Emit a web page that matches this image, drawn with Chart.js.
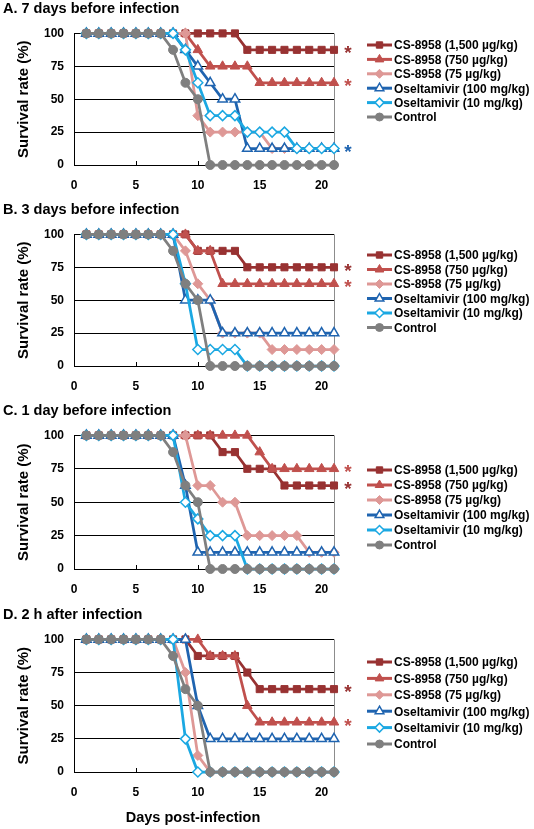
<!DOCTYPE html>
<html>
<head>
<meta charset="utf-8">
<script src="https://cdn.jsdelivr.net/npm/chart.js@4/dist/chart.umd.min.js"></script>
<style>
  body { margin: 0; background: #fff; }
  #wrap { position: relative; width: 534px; height: 829px; }
  canvas { position: absolute; left: 0; }
</style>
</head>
<body>
<div id="wrap">
  <canvas id="chartA" width="534" height="200" style="top:0px"></canvas>
  <canvas id="chartB" width="534" height="200" style="top:201px"></canvas>
  <canvas id="chartC" width="534" height="202" style="top:402px"></canvas>
  <canvas id="chartD" width="534" height="223" style="top:606px"></canvas>
</div>
<script>
// days post-infection
var days = [1, 2, 3, 4, 5, 6, 7, 8, 9, 10, 11, 12, 13, 14, 15, 16, 17, 18, 19, 20, 21];

var seriesNames = ['CS-8958 (1,500 µg/kg)', 'CS-8958 (750 µg/kg)', 'CS-8958 (75 µg/kg)',
                   'Oseltamivir (100 mg/kg)', 'Oseltamivir (10 mg/kg)', 'Control'];

// A. 7 days before infection
var csHighA  = [100,100,100,100,100,100,100,100,100,100,100,100,100,87.5,87.5,87.5,87.5,87.5,87.5,87.5,87.5];
var csMidA   = [100,100,100,100,100,100,100,100,100,87.5,75,75,75,75,62.5,62.5,62.5,62.5,62.5,62.5,62.5];
var csLowA   = [100,100,100,100,100,100,100,100,100,37.5,25,25,25,25,25,12.5,12.5,12.5,12.5,12.5,12.5];
var oselHighA = [100,100,100,100,100,100,100,100,87.5,75,62.5,50,50,12.5,12.5,12.5,12.5,12.5,12.5,12.5,12.5];
var oselLowA = [100,100,100,100,100,100,100,100,87.5,62.5,37.5,37.5,37.5,25,25,25,25,12.5,12.5,12.5,12.5];
var controlA = [100,100,100,100,100,100,100,87.5,62.5,50,0,0,0,0,0,0,0,0,0,0,0];

// B. 3 days before infection
var csHighB  = [100,100,100,100,100,100,100,100,100,87.5,87.5,87.5,87.5,75,75,75,75,75,75,75,75];
var csMidB   = [100,100,100,100,100,100,100,100,100,87.5,87.5,62.5,62.5,62.5,62.5,62.5,62.5,62.5,62.5,62.5,62.5];
var csLowB   = [100,100,100,100,100,100,100,100,87.5,62.5,50,25,25,25,25,12.5,12.5,12.5,12.5,12.5,12.5];
var oselHighB = [100,100,100,100,100,100,100,100,50,50,50,25,25,25,25,25,25,25,25,25,25];
var oselLowB = [100,100,100,100,100,100,100,100,62.5,12.5,12.5,12.5,12.5,0,0,0,0,0,0,0,0];
var controlB = [100,100,100,100,100,100,100,87.5,62.5,50,0,0,0,0,0,0,0,0,0,0,0];

// C. 1 day before infection
var csHighC  = [100,100,100,100,100,100,100,100,100,100,100,87.5,87.5,75,75,75,62.5,62.5,62.5,62.5,62.5];
var csMidC   = [100,100,100,100,100,100,100,100,100,100,100,100,100,100,87.5,75,75,75,75,75,75];
var csLowC   = [100,100,100,100,100,100,100,100,100,62.5,62.5,50,50,25,25,25,25,25,12.5,12.5,12.5];
var oselHighC = [100,100,100,100,100,100,100,100,62.5,12.5,12.5,12.5,12.5,12.5,12.5,12.5,12.5,12.5,12.5,12.5,12.5];
var oselLowC = [100,100,100,100,100,100,100,100,50,37.5,25,25,25,0,0,0,0,0,0,0,0];
var controlC = [100,100,100,100,100,100,100,87.5,62.5,50,0,0,0,0,0,0,0,0,0,0,0];

// D. 2 h after infection
var csHighD  = [100,100,100,100,100,100,100,100,100,87.5,87.5,87.5,87.5,75,62.5,62.5,62.5,62.5,62.5,62.5,62.5];
var csMidD   = [100,100,100,100,100,100,100,100,100,100,87.5,87.5,87.5,50,37.5,37.5,37.5,37.5,37.5,37.5,37.5];
var csLowD   = [100,100,100,100,100,100,100,100,75,12.5,0,0,0,0,0,0,0,0,0,0,0];
var oselHighD = [100,100,100,100,100,100,100,100,100,50,25,25,25,25,25,25,25,25,25,25,25];
var oselLowD = [100,100,100,100,100,100,100,100,25,0,0,0,0,0,0,0,0,0,0,0,0];
var controlD = [100,100,100,100,100,100,100,87.5,62.5,50,0,0,0,0,0,0,0,0,0,0,0];

var FONT = '"Liberation Sans", Arial, sans-serif';

var styles = [
    { color: '#983232', point: 'rect',     radius: 5,   fill: '#983232', order: 6 },
    { color: '#c0504d', point: 'triangle', radius: 5.5, fill: '#c0504d', order: 5 },
    { color: '#de9896', point: 'rectRot',  radius: 5,   fill: '#de9896', order: 4 },
    { color: '#1f64b0', point: 'triangle', radius: 5.5, fill: '#ffffff', order: 3 },
    { color: '#1ba8e2', point: 'rectRot',  radius: 5,   fill: '#ffffff', order: 2 },
    { color: '#7f7f7f', point: 'circle',   radius: 4.5, fill: '#7f7f7f', order: 1 }
];

var panels = [
    { id: '#chartA', title: 'A. 7 days before infection', series: [csHighA, csMidA, csLowA, oselHighA, oselLowA, controlA], stars: [0, 1, 3], legendTop: 45, legendGap: 14.4, xh: 35 },
    { id: '#chartB', title: 'B. 3 days before infection', series: [csHighB, csMidB, csLowB, oselHighB, oselLowB, controlB], stars: [0, 1], legendTop: 54, legendGap: 14.5, xh: 35 },
    { id: '#chartC', title: 'C. 1 day before infection', series: [csHighC, csMidC, csLowC, oselHighC, oselLowC, controlC], stars: [0, 1], legendTop: 68, legendGap: 15, xh: 35 },
    { id: '#chartD', title: 'D. 2 h after infection', series: [csHighD, csMidD, csLowD, oselHighD, oselLowD, controlD], stars: [0, 1], legendTop: 56, legendGap: 16.4, xh: 57, xTitle: 'Days post-infection' }
];

// right border, inner x ticks, asterisks, x title and the line+marker legend
var extras = {
    id: 'extras',
    beforeDatasetsDraw(chart) {
        let { ctx, chartArea: a, scales: { x } } = chart;
        ctx.save();
        ctx.lineWidth = 1;
        ctx.strokeStyle = '#8c8c8c';
        ctx.beginPath();
        ctx.moveTo(a.right + 0.5, a.top);
        ctx.lineTo(a.right + 0.5, a.bottom);
        ctx.stroke();
        ctx.strokeStyle = '#000';
        x.ticks.forEach(t => {
            let px = Math.round(x.getPixelForValue(t.value)) + 0.5;
            ctx.beginPath();
            ctx.moveTo(px, a.bottom);
            ctx.lineTo(px, a.bottom - 4);
            ctx.stroke();
        });
        ctx.restore();
    },
    afterDraw(chart, args, opts) {
        let { ctx, chartArea: a, scales: { y } } = chart;
        let sets = chart.data.datasets;
        ctx.save();

        ctx.font = 'bold 19px ' + FONT;
        ctx.textAlign = 'center';
        ctx.textBaseline = 'middle';
        opts.stars.forEach(i => {
            let d = sets[i].data;
            let py = y.getPixelForValue(d[d.length - 1].y);
            ctx.fillStyle = sets[i].borderColor;
            ctx.fillText('*', a.right + 14, py + 4);
        });

        if (opts.xTitle) {
            ctx.fillStyle = '#000';
            ctx.font = 'bold 14.5px ' + FONT;
            ctx.fillText(opts.xTitle, 193, chart.height - 11);
        }

        ctx.font = 'bold 12px ' + FONT;
        ctx.textAlign = 'left';
        sets.forEach((ds, i) => {
            let ly = opts.legendTop + i * opts.legendGap;
            ctx.strokeStyle = ds.borderColor;
            ctx.lineWidth = 3;
            ctx.beginPath();
            ctx.moveTo(367, ly);
            ctx.lineTo(392, ly);
            ctx.stroke();
            ctx.fillStyle = ds.pointBackgroundColor;
            ctx.strokeStyle = ds.pointBorderColor;
            ctx.lineWidth = ds.pointBorderWidth;
            Chart.helpers.drawPoint(ctx, { pointStyle: ds.pointStyle, radius: ds.pointRadius - 0.5, borderWidth: ds.pointBorderWidth, rotation: 0 }, 379.5, ly);
            ctx.fillStyle = '#000';
            ctx.fillText(ds.label, 394, ly + 1);
        });
        ctx.restore();
    }
};

panels.forEach(p => {
    let ctx = document.querySelector(p.id).getContext('2d');
    let datasets = p.series.map((vals, i) => ({
        label: seriesNames[i],
        data: vals.map((v, k) => ({ x: days[k], y: v })),
        borderColor: styles[i].color,
        borderWidth: 2.75,
        pointStyle: styles[i].point,
        pointRadius: styles[i].radius,
        pointBackgroundColor: styles[i].fill,
        pointBorderColor: styles[i].color,
        pointBorderWidth: styles[i].fill === '#ffffff' ? 1.5 : 1,
        tension: 0,
        clip: false,
        order: styles[i].order
    }));

    new Chart(ctx, {
        type: 'line',
        data: { datasets },
        plugins: [extras],
        options: {
            responsive: false,
            animation: false,
            layout: { padding: { left: 3, right: 200, top: 0, bottom: 0 } },
            plugins: {
                legend: { display: false },
                tooltip: { enabled: false },
                title: {
                    display: true,
                    text: p.title,
                    align: 'start',
                    color: '#000',
                    font: { size: 14.5, weight: 'bold', family: FONT },
                    padding: { top: 0, bottom: 16 }
                },
                extras: { stars: p.stars, legendTop: p.legendTop, legendGap: p.legendGap, xTitle: p.xTitle }
            },
            scales: {
                x: {
                    type: 'linear',
                    min: 0,
                    max: 21,
                    afterFit: s => { s.height = p.xh; },
                    grid: { display: false, drawTicks: false },
                    border: { color: '#000', width: 1 },
                    ticks: {
                        stepSize: 5,
                        includeBounds: false,
                        padding: 13,
                        color: '#000',
                        font: { size: 12, weight: 'bold', family: FONT }
                    }
                },
                y: {
                    min: 0,
                    max: 100,
                    afterFit: s => { s.width = 71; },
                    grid: { color: '#000', lineWidth: 1, drawTicks: false },
                    border: { color: '#000', width: 1 },
                    ticks: {
                        stepSize: 25,
                        padding: 10,
                        color: '#000',
                        font: { size: 12, weight: 'bold', family: FONT }
                    },
                    title: {
                        display: true,
                        text: 'Survival rate (%)',
                        color: '#000',
                        font: { size: 15, weight: 'bold', family: FONT },
                        padding: { top: 12, bottom: 0 }
                    }
                }
            }
        }
    });
});
</script>
</body>
</html>
